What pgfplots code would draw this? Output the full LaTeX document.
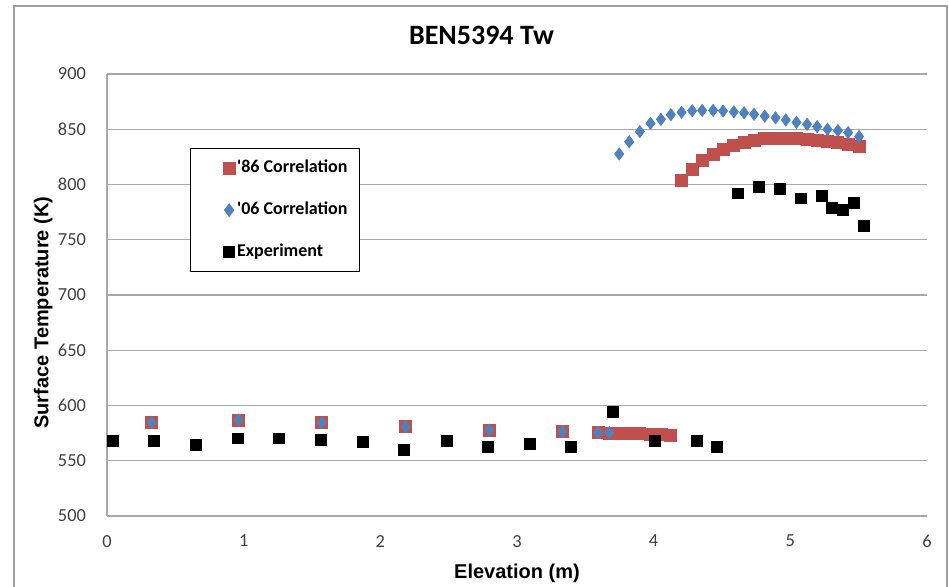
\documentclass[border=0pt]{standalone}
\usepackage{fontspec}
\setmainfont{Carlito}
\newfontfamily\arialfont{Liberation Sans}
\usepackage{pgfplots}
\pgfplotsset{compat=1.18}
\definecolor{redser}{HTML}{C0504D}
\definecolor{blueser}{HTML}{4F81BD}
\definecolor{gridgray}{HTML}{A8A8A8}

\begin{document}
\begin{tikzpicture}
\useasboundingbox (-53.5pt,-35pt) rectangle (421pt,258pt);
\draw[gray!75, line width=0.6pt] (-46.5pt,-45pt) rectangle (420pt,255pt);
\begin{axis}[
    at={(0,0)}, anchor=south west,
    scale only axis, width=410pt, height=221pt,
    xmin=0, xmax=6, ymin=500, ymax=900,
    xtick={0,1,...,6}, ytick={500,550,...,900},
    axis x line=bottom, axis y line=left,
    axis line style={gridgray, -, line width=0.6pt},
    ymajorgrids, grid style={gridgray, line width=0.6pt},
    major tick length=0pt,
    /pgf/number format/assume math mode=true,
    tick label style={font=\fontsize{9.2}{10}\selectfont, text=black!75},
    xticklabel style={yshift=-6pt},
    yticklabel style={xshift=-7pt},
    title={BEN5394 Tw},
    title style={at={(axis description cs:0.4567,1.0385)}, anchor=base, font=\bfseries\fontsize{14}{16}\selectfont},
    xlabel={\arialfont\bfseries Elevation (m)},
    xlabel style={at={(axis description cs:0.5,-0.1403)}, anchor=base, font=\fontsize{10}{12}\selectfont},
    ylabel={\arialfont\bfseries Surface Temperature (K)},
    ylabel style={at={(axis description cs:-0.0715,0.46)}, anchor=base, rotate=0, font=\fontsize{10}{12}\selectfont},
    legend style={at={(axis cs:0.607,833)}, anchor=north west,
        draw=black, line width=0.6pt, inner xsep=6pt, inner ysep=6pt,
        font=\bfseries\fontsize{9}{10}\selectfont,
        row sep=13.5pt, column sep=1pt,
        nodes={inner sep=0pt, text height=6pt, text depth=1.5pt}},
    legend cell align=left,
    legend image code/.code={\path (-13pt,0pt) (2.7pt,0pt); \draw[#1] plot coordinates {(0pt,0pt)};},
]
\addplot[only marks, mark=square*, mark size=3pt, mark options={fill=redser, draw=redser}] coordinates {
(0.327,584.8) (0.961,586.9) (1.571,584.4) (2.185,580.8) (2.797,577.8) (3.331,576.3)
(3.594,575.4) (3.675,575.2) (3.748,575.0) (3.821,574.7) (3.899,574.4) (3.977,574.0)
(4.053,573.6) (4.126,573.2) (4.204,804.0) (4.282,813.8) (4.355,821.5) (4.435,827.6)
(4.508,832.1) (4.587,835.7) (4.662,838.5) (4.735,840.3) (4.813,841.4) (4.892,842.1)
(4.967,842.1) (5.045,841.8) (5.123,840.9) (5.196,840.0) (5.272,838.7) (5.348,837.8)
(5.423,836.6) (5.503,834.8)
};
\addplot[only marks, mark=diamond*, mark size=3pt, mark options={fill=blueser, draw=blueser}] coordinates {
(0.327,584.8) (0.961,586.9) (1.571,584.4) (2.185,580.8) (2.797,577.8) (3.331,576.3)
(3.594,575.4) (3.675,575.4) (3.748,827.6) (3.821,838.7) (3.899,847.8) (3.977,855.4)
(4.053,859.0) (4.126,863.2) (4.204,865.3) (4.282,866.8) (4.355,867.1) (4.435,867.1)
(4.508,866.5) (4.587,865.8) (4.662,864.9) (4.735,863.5) (4.813,861.9) (4.892,860.4)
(4.967,858.4) (5.045,856.3) (5.123,854.5) (5.196,852.4) (5.272,850.0) (5.348,848.8)
(5.423,847.0) (5.503,843.4)
};
\addplot[only marks, mark=square*, mark size=2.7pt, mark options={fill=black, draw=black}] coordinates {
(0.046,567.9) (0.344,567.9) (0.651,564.3) (0.956,570.3) (1.260,570.3) (1.563,568.8)
(1.875,567.2) (2.173,559.7) (2.485,567.9) (2.785,562.7) (3.094,565.2) (3.397,562.7)
(3.704,594.4) (4.009,567.9) (4.314,567.9) (4.460,562.4) (4.618,792.0) (4.772,798.0)
(4.926,795.7) (5.077,787.5) (5.233,789.9) (5.306,778.5) (5.382,776.9) (5.465,783.0)
(5.540,762.7)
};
\legend{\textquotesingle 86 Correlation, \textquotesingle 06 Correlation, Experiment}
\end{axis}
\end{tikzpicture}
\end{document}
